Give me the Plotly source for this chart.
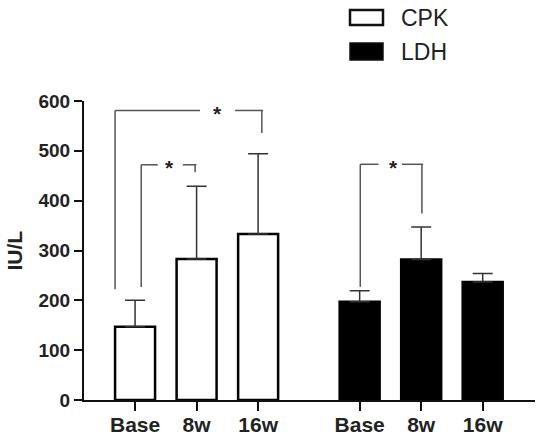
import plotly.graph_objects as go

# ---- data ----
categories = ["Base", "8w", "16w"]
cpk_mean = [147, 283, 333]
cpk_err = [53, 146, 161]
ldh_mean = [197, 282, 237]
ldh_err = [22, 65, 17]

cpk_x = [0, 1, 2]
ldh_x = [3.65, 4.65, 5.65]

FONT = "Liberation Sans, Arial, sans-serif"
BW = 0.65

fig = go.Figure()
fig.add_trace(go.Bar(
    x=cpk_x, y=cpk_mean, width=BW, name="CPK",
    marker=dict(color="white", line=dict(color="black", width=2.5)),
    error_y=dict(type="data", array=cpk_err, arrayminus=[0] * 3, symmetric=False,
                 color="#333", thickness=1.5, width=10),
))
fig.add_trace(go.Bar(
    x=ldh_x, y=ldh_mean, width=BW, name="LDH",
    marker=dict(color="black", line=dict(color="black", width=2.5)),
    error_y=dict(type="data", array=ldh_err, arrayminus=[0] * 3, symmetric=False,
                 color="#333", thickness=1.5, width=10),
))

shapes = []
annots = []
LC = dict(color="#555", width=1.5)


def seg(x0, y0, x1, y1):
    shapes.append(dict(type="line", xref="x", yref="y", x0=x0, y0=y0, x1=x1, y1=y1, line=LC))


def bracket(xl, xr, ytop, yl, yr, gl, gr, xs):
    seg(xl, yl, xl, ytop)
    seg(xl, ytop, gl, ytop)
    seg(gr, ytop, xr + 0.02, ytop)
    seg(xr, ytop, xr, yr)
    annots.append(dict(x=xs, y=ytop, xref="x", yref="y", text="<b>*</b>", showarrow=False,
                       font=dict(family=FONT, size=21, color="#222"), yshift=-3))


# CPK Base vs 16w
bracket(cpk_x[0] - 0.325, cpk_x[2] + 0.06, 581, 222, 536, 1.057, 1.626, 1.333)
# CPK Base vs 8w
bracket(cpk_x[0] + 0.1, cpk_x[1] - 0.024, 472, 227, 457, 0.369, 0.776, 0.558)
# LDH Base vs 8w
bracket(ldh_x[0] + 0.01, ldh_x[1] + 0.012, 473, 227, 374, 3.956, 4.337, 4.2)

# legend drawn manually
W, H, L, B = 451.0, 299.0, 84.0, 400.0


def px(xp):
    return (xp - L) / W


def py(yp):
    return (B - yp) / H


shapes.append(dict(type="rect", xref="paper", yref="paper", x0=px(350), x1=px(383), y0=py(10), y1=py(25),
                   line=dict(color="#111", width=2.5), fillcolor="white"))
shapes.append(dict(type="rect", xref="paper", yref="paper", x0=px(350), x1=px(383), y0=py(43), y1=py(60),
                   line=dict(color="#111", width=1.5), fillcolor="black"))
for name, yc in [("CPK", 18), ("LDH", 52)]:
    annots.append(dict(x=px(399), y=py(yc), xref="paper", yref="paper", text=name, showarrow=False,
                       xanchor="left", yanchor="middle", font=dict(family=FONT, size=23, color="#222")))

# y axis title
annots.append(dict(x=px(14), y=0.5, xref="paper", yref="paper", text="<b>IU/L</b>", showarrow=False,
                   textangle=-90, xanchor="center", yanchor="middle",
                   font=dict(family=FONT, size=21, color="#222")))

fig.update_layout(
    width=538, height=441,
    margin=dict(l=84, r=3, t=101, b=41),
    paper_bgcolor="white", plot_bgcolor="white",
    showlegend=False,
    shapes=shapes, annotations=annots,
    xaxis=dict(range=[-0.83, 6.5], tickvals=cpk_x + ldh_x, ticktext=categories + categories,
               ticks="outside", ticklen=9, tickwidth=2, tickcolor="#111",
               showline=True, linecolor="#111", linewidth=2, showgrid=False, zeroline=False,
               ticklabelstandoff=-4,
               tickfont=dict(family=FONT, size=21, color="#222", weight="bold")),
    yaxis=dict(range=[0, 600], dtick=100, ticks="outside", ticklen=8, tickwidth=2, tickcolor="#111",
               showline=True, linecolor="#111", linewidth=2, showgrid=False, zeroline=False,
               tickfont=dict(family=FONT, size=19, color="#222", weight="bold")),
)

fig.write_html("out.html")
